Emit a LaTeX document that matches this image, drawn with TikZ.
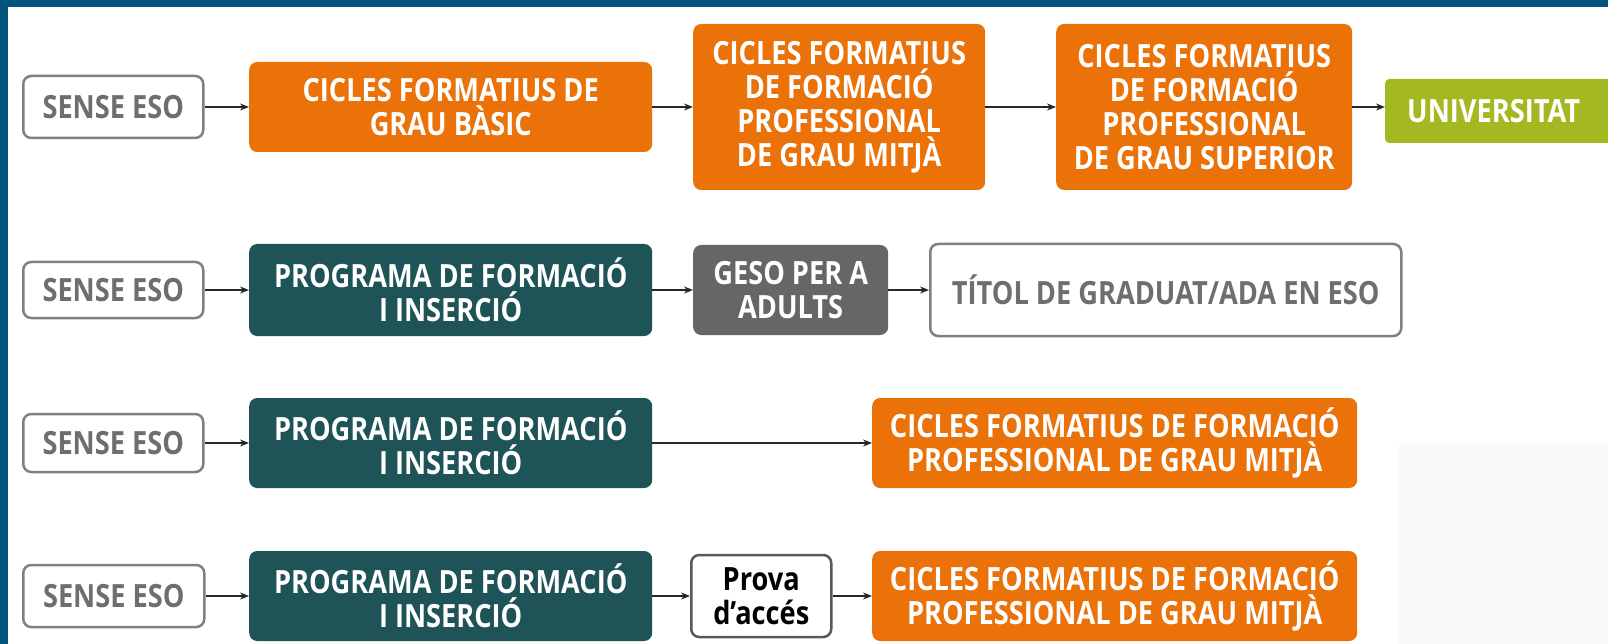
\documentclass[tikz,border=0pt]{standalone}
\usepackage{fontspec}
\setmainfont{Open Sans}[FakeStretch=0.85]
\usetikzlibrary{arrows.meta}
\definecolor{bordblue}{HTML}{01527F}
\definecolor{orng}{HTML}{EB7209}
\definecolor{tealbox}{HTML}{1E5357}
\definecolor{gesogray}{HTML}{666666}
\definecolor{grn}{HTML}{A4B821}
\definecolor{txtgray}{HTML}{6D6E71}
\definecolor{outgray}{HTML}{808080}
\definecolor{panelgray}{HTML}{F8F9FB}
\begin{document}
\begin{tikzpicture}[x=1pt,y=-1pt,
  base/.style={rounded corners=8pt, inner sep=0pt, align=center, anchor=west,
    font=\bfseries\fontsize{32}{34}\selectfont},
  startbox/.style={base, draw=outgray, line width=2.5pt, fill=white, text=txtgray},
  orangebox/.style={base, fill=orng, text=white},
  tealbx/.style={base, fill=tealbox, text=white},
  geso/.style={base, fill=gesogray, text=white},
  unibox/.style={base, rounded corners=4pt, fill=grn, text=white},
  titolbox/.style={base, draw=outgray, line width=2.5pt, fill=white, text=txtgray},
  provabox/.style={base, draw=black!65, line width=2.5pt, fill=white, text=black},
  arr/.style={line width=1.3pt, draw=black!85, -{Stealth[length=9pt,width=7pt]}}
]
\useasboundingbox (0,0) rectangle (1608,644);
\clip (0,0) rectangle (1608,644);
\fill[bordblue] (0,0) rectangle (1608,644);
\fill[white] (8,7) rectangle (1608,644);
\fill[panelgray] (1399,443) rectangle (1608,644);

% Row 1
\node[startbox, minimum width=180, minimum height=62] (S1) at (22,107) {SENSE ESO};
\node[orangebox, minimum width=403, minimum height=90] (B1) at (249,107) {CICLES FORMATIUS DE\\GRAU BÀSIC};
\node[orangebox, minimum width=292, minimum height=166] (M1) at (693,107) {CICLES FORMATIUS\\DE FORMACIÓ\\PROFESSIONAL\\DE GRAU MITJÀ};
\node[orangebox, minimum width=296, minimum height=166] (Su1) at (1056,107) {CICLES FORMATIUS\\DE FORMACIÓ\\PROFESSIONAL\\DE GRAU SUPERIOR};
\node[unibox, minimum width=250, minimum height=64, text width=230, align=left] (U) at (1385,111) {\hspace*{12pt}UNIVERSITAT};
\draw[arr] (S1.east) -- (S1.east -| B1.west);
\draw[arr] (B1.east) -- (B1.east -| M1.west);
\draw[arr] (M1.east) -- (M1.east -| Su1.west);
\draw[arr] (Su1.east) -- (Su1.east -| U.west);

% Row 2
\node[startbox, minimum width=180, minimum height=56] (S2) at (22,290) {SENSE ESO};
\node[tealbx, minimum width=403, minimum height=92] (P2) at (249,290) {PROGRAMA DE FORMACIÓ\\I INSERCIÓ};
\node[geso, minimum width=195, minimum height=90] (G2) at (693,290) {GESO PER A\\ADULTS};
\node[titolbox, minimum width=471, minimum height=92] (T2) at (929,290) {TÍTOL DE GRADUAT/ADA EN ESO};
\draw[arr] (S2.east) -- (S2.east -| P2.west);
\draw[arr] (P2.east) -- (P2.east -| G2.west);
\draw[arr] (G2.east) -- (G2.east -| T2.west);

% Row 3
\node[startbox, minimum width=180, minimum height=58] (S3) at (22,443) {SENSE ESO};
\node[tealbx, minimum width=403, minimum height=90] (P3) at (249,443) {PROGRAMA DE FORMACIÓ\\I INSERCIÓ};
\node[orangebox, minimum width=485, minimum height=90] (C3) at (872,443) {CICLES FORMATIUS DE FORMACIÓ\\PROFESSIONAL DE GRAU MITJÀ};
\draw[arr] (S3.east) -- (S3.east -| P3.west);
\draw[arr] (P3.east) -- (P3.east -| C3.west);

% Row 4
\node[startbox, minimum width=181, minimum height=62] (S4) at (22,596) {SENSE ESO};
\node[tealbx, minimum width=403, minimum height=90] (P4) at (249,596) {PROGRAMA DE FORMACIÓ\\I INSERCIÓ};
\node[provabox, minimum width=140, minimum height=82] (PR) at (690,596) {Prova\\d’accés};
\node[orangebox, minimum width=485, minimum height=90] (C4) at (872,596) {CICLES FORMATIUS DE FORMACIÓ\\PROFESSIONAL DE GRAU MITJÀ};
\draw[arr] (S4.east) -- (S4.east -| P4.west);
\draw[arr] (P4.east) -- (P4.east -| PR.west);
\draw[arr] (PR.east) -- (PR.east -| C4.west);
\end{tikzpicture}
\end{document}
